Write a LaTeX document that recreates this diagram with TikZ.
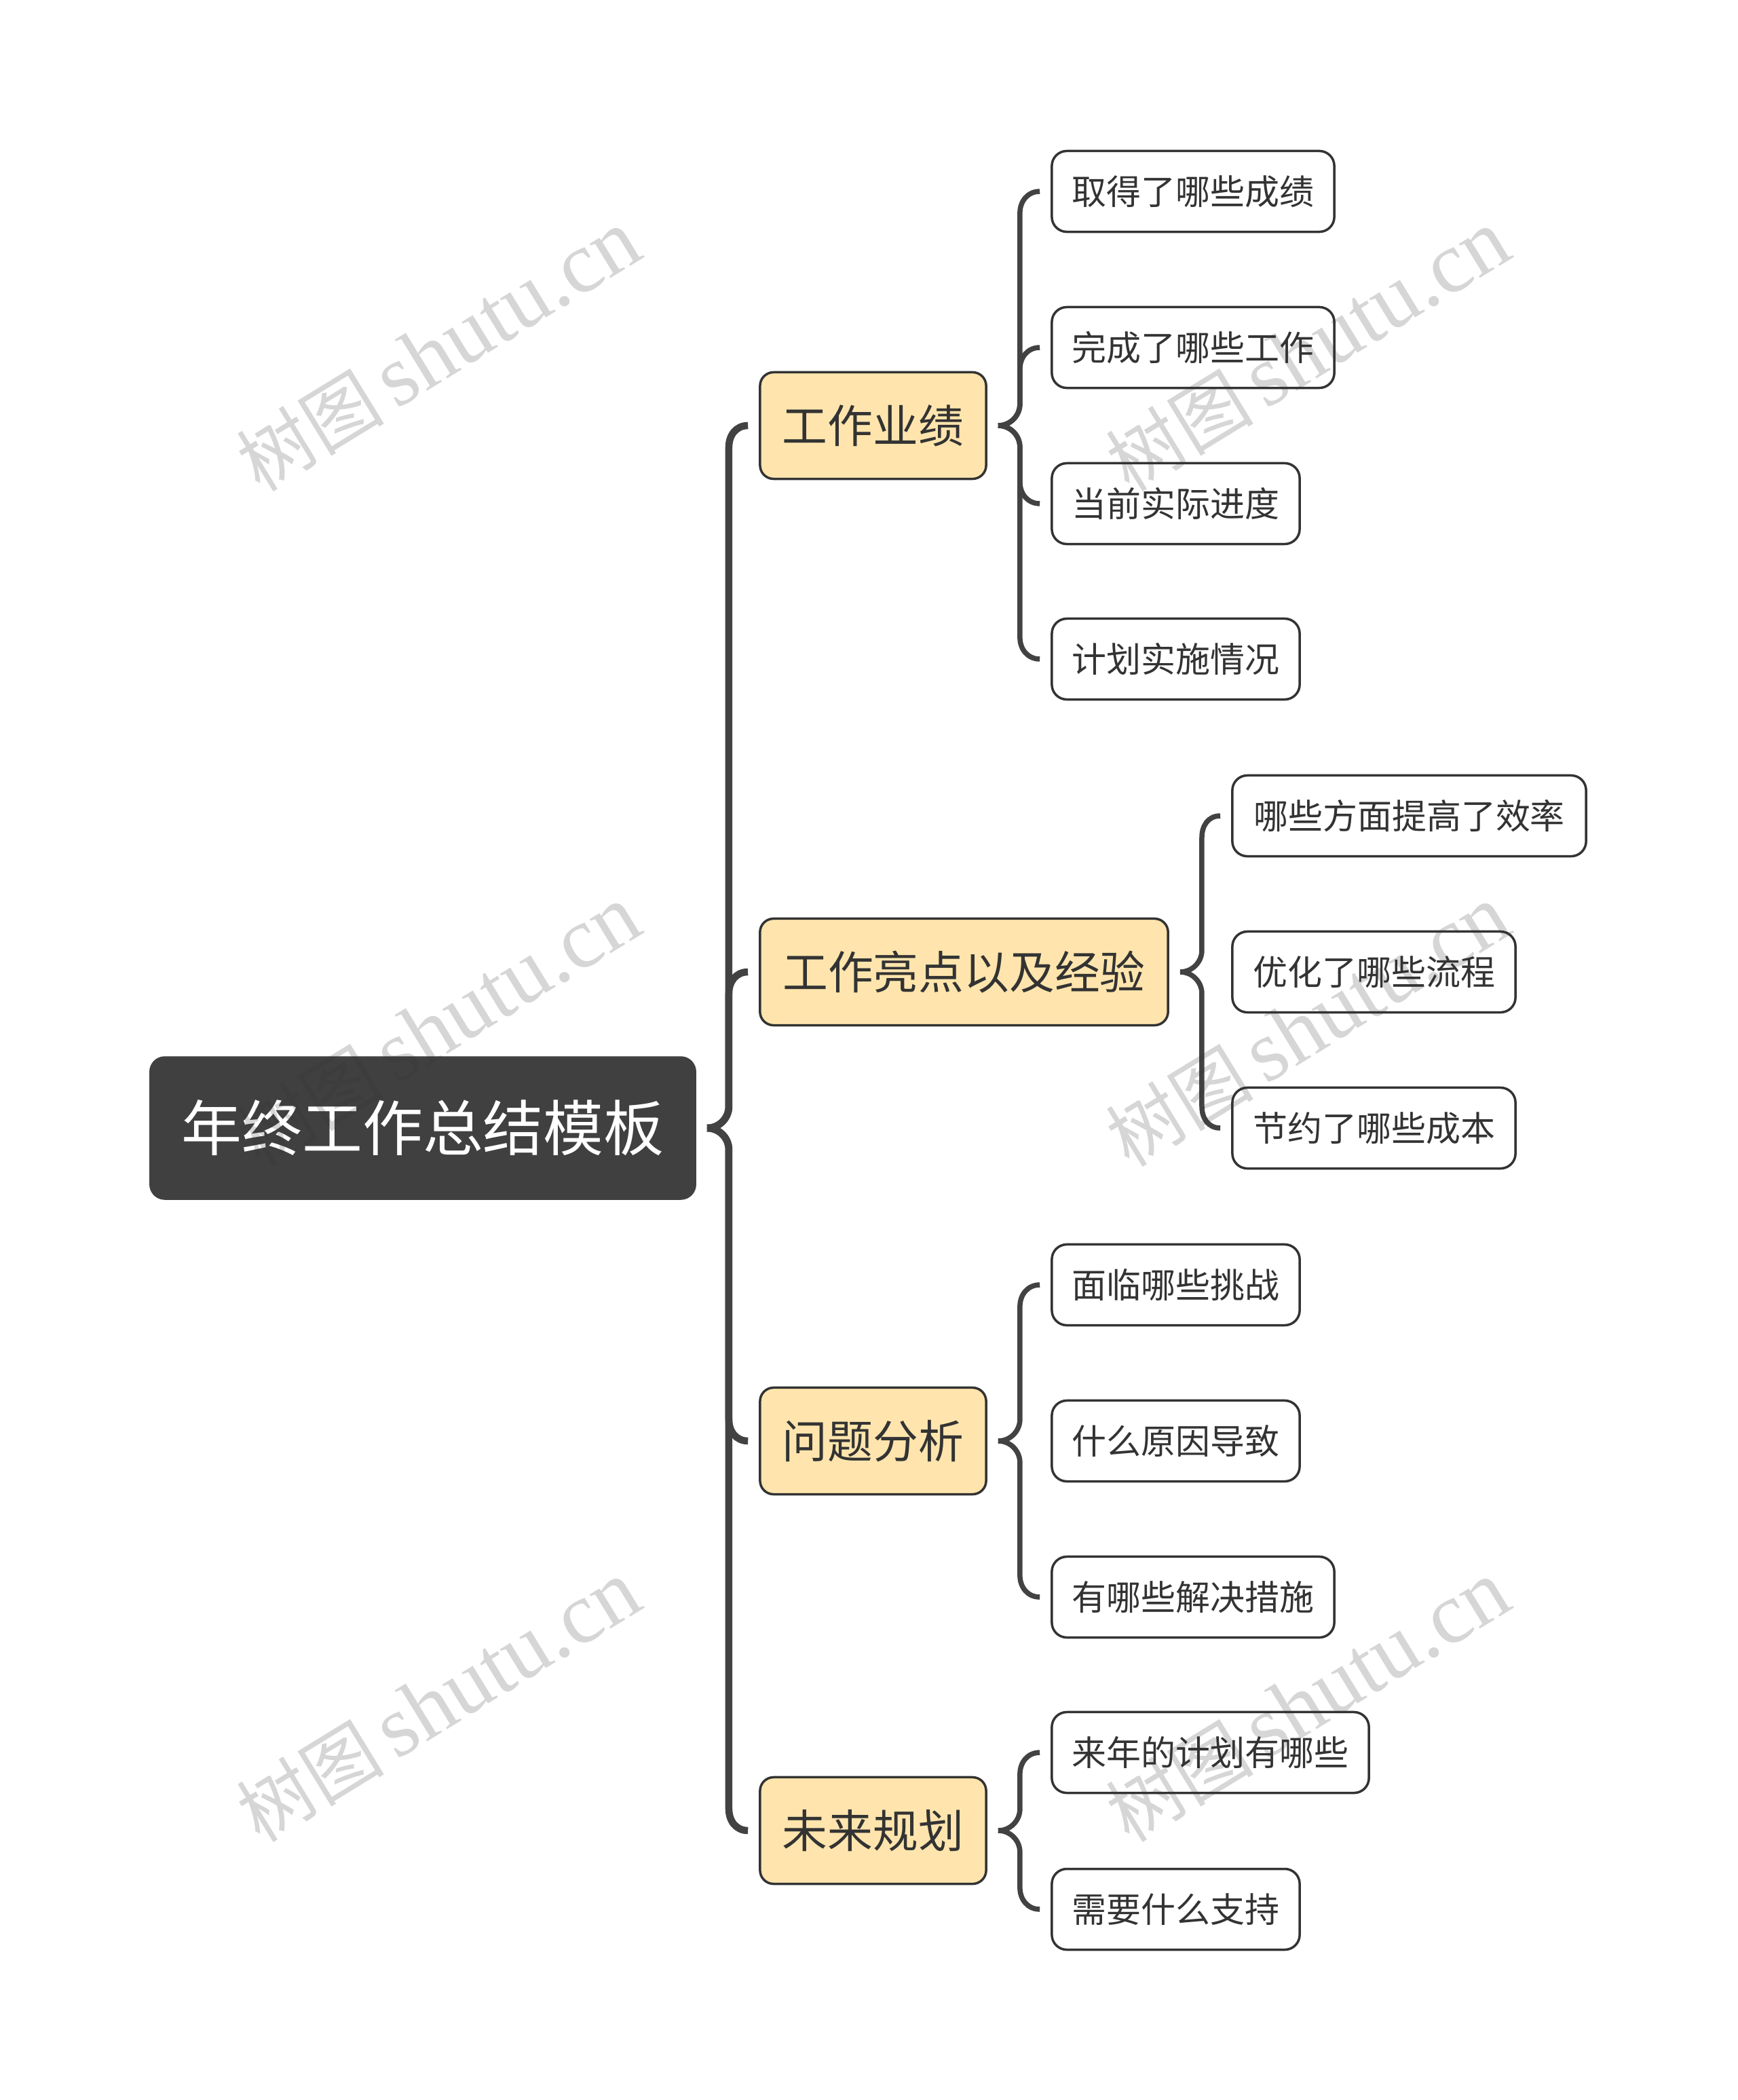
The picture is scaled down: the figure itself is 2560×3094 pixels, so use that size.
\documentclass[tikz,border=0pt]{standalone}
\usepackage{fontspec}
\setmainfont{Noto Sans CJK SC}
\newfontfamily\wmcjk{Noto Sans CJK SC}
\newfontfamily\wmlat{Liberation Serif}
\usetikzlibrary{calc}
\definecolor{linec}{HTML}{424242}
\definecolor{rootc}{HTML}{404040}
\definecolor{lvone}{HTML}{FFE5AD}
\definecolor{txt}{HTML}{333333}
\definecolor{wmc}{HTML}{333333}
\newcommand\brup[3]{%
  \draw[#3] let \p1=(#1.east), \p2=(#2.west) in
  (\x1+4.55pt,\y1) .. controls (\x1+9.57pt,\y1) and (\x1+13.66pt,\y1+4.08pt) .. (\x1+13.66pt,\y1+9.1pt)
  -- (\x1+13.66pt,\y2-9.1pt) .. controls (\x1+13.66pt,\y2-4.08pt) and (\x2-9.6pt,\y2) .. (\x2-4.55pt,\y2);}
\newcommand\brdown[3]{%
  \draw[#3] let \p1=(#1.east), \p2=(#2.west) in
  (\x1+4.55pt,\y1) .. controls (\x1+9.57pt,\y1) and (\x1+13.66pt,\y1-4.08pt) .. (\x1+13.66pt,\y1-9.1pt)
  -- (\x1+13.66pt,\y2+9.1pt) .. controls (\x1+13.66pt,\y2+4.08pt) and (\x2-9.6pt,\y2) .. (\x2-4.55pt,\y2);}
\tikzset{
  rootbox/.style={rectangle, rounded corners=0.22cm, fill=rootc, draw=rootc, text=white,
    font=\fontsize{25.3pt}{28pt}\selectfont, inner sep=0pt, minimum width=8.04cm, minimum height=2.10cm},
  topicbox/.style={rectangle, rounded corners=0.2cm, fill=lvone, draw=txt, line width=0.035cm, text=txt,
    font=\fontsize{19pt}{22pt}\selectfont, minimum height=1.57cm, inner sep=0pt},
  leafbox/.style={rectangle, rounded corners=0.22cm, fill=white, draw=txt, line width=0.035cm, text=txt,
    font=\fontsize{14.5pt}{17pt}\selectfont, minimum height=1.19cm, inner sep=0pt},
  mainline/.style={draw=linec, line width=0.105cm, line join=round},
  subline/.style={draw=linec, line width=0.075cm, line join=round},
  wmark/.style={text=wmc, text opacity=0.2, rotate=31.5, inner sep=0pt}
}
\begin{document}
\begin{tikzpicture}[x=0.01cm, y=-0.01cm]
\fill[white] (0,0) rectangle (2560,3094);
\useasboundingbox (0,0) rectangle (2560,3094);

% root
\node[rootbox] (root) at (623,1662) {年终工作总结模板};

% main topics
\node[topicbox, minimum width=3.33cm] (A) at (1286.5,627) {工作业绩};
\node[topicbox, minimum width=6.01cm] (B) at (1420.5,1432) {工作亮点以及经验};
\node[topicbox, minimum width=3.33cm] (C) at (1286.5,2123) {问题分析};
\node[topicbox, minimum width=3.33cm] (D) at (1286.5,2697) {未来规划};

% leaves
\node[leafbox, minimum width=4.16cm] (A1) at (1758,282) {取得了哪些成绩};
\node[leafbox, minimum width=4.16cm] (A2) at (1758,512) {完成了哪些工作};
\node[leafbox, minimum width=3.65cm] (A3) at (1732.5,742) {当前实际进度};
\node[leafbox, minimum width=3.65cm] (A4) at (1732.5,971) {计划实施情况};

\node[leafbox, minimum width=5.21cm] (B1) at (2076.5,1202) {哪些方面提高了效率};
\node[leafbox, minimum width=4.17cm] (B2) at (2024.5,1432) {优化了哪些流程};
\node[leafbox, minimum width=4.17cm] (B3) at (2024.5,1662) {节约了哪些成本};

\node[leafbox, minimum width=3.65cm] (C1) at (1732.5,1893) {面临哪些挑战};
\node[leafbox, minimum width=3.65cm] (C2) at (1732.5,2123) {什么原因导致};
\node[leafbox, minimum width=4.16cm] (C3) at (1758,2353) {有哪些解决措施};

\node[leafbox, minimum width=4.67cm] (D1) at (1783.5,2582) {来年的计划有哪些};
\node[leafbox, minimum width=3.65cm] (D2) at (1732.5,2813) {需要什么支持};

% connectors
\brup{root}{A}{mainline}
\brup{root}{B}{mainline}
\brdown{root}{C}{mainline}
\brdown{root}{D}{mainline}

\brup{A}{A1}{subline}
\brup{A}{A2}{subline}
\brdown{A}{A3}{subline}
\brdown{A}{A4}{subline}

\brup{B}{B1}{subline}
\brdown{B}{B3}{subline}

\brup{C}{C1}{subline}
\brdown{C}{C3}{subline}

\brup{D}{D1}{subline}
\brdown{D}{D2}{subline}

% watermarks
\foreach \wx/\wy [count=\i] in {646/517, 1927/517, 646/1512, 1927/1512, 646/2507, 1927/2507}{
  \node[wmark] (wm\i) at (\wx,\wy) {\fontsize{31pt}{36pt}\selectfont\wmcjk 树图\,\wmlat\fontsize{36.5pt}{40pt}\selectfont shutu.cn};
}
\end{tikzpicture}
\end{document}
